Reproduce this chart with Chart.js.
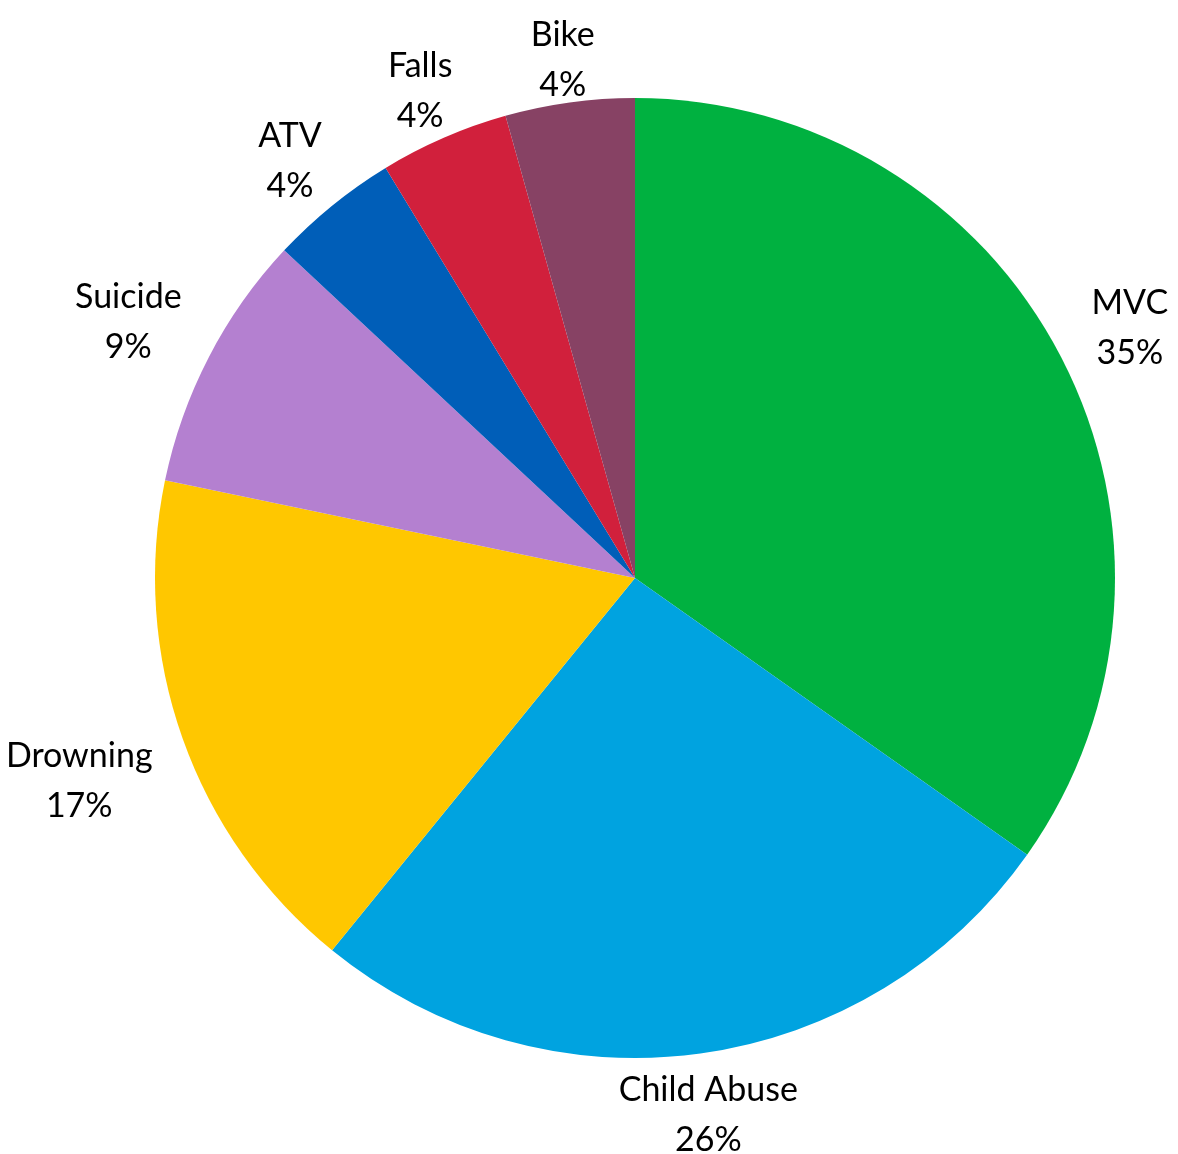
<!DOCTYPE html>
<html>
<head>
<meta charset="utf-8">
<title>Injury causes</title>
<script src="https://cdn.jsdelivr.net/npm/chart.js@4.4.1/dist/chart.umd.min.js"></script>
<style>
  html, body { margin: 0; padding: 0; background: #fff; }
  #wrap { position: relative; width: 1178px; height: 1154px; }
</style>
</head>
<body>
<div id="wrap"><canvas id="pie"></canvas></div>
<script>
// injury counts by cause (slices run clockwise from 12 o'clock)
const causes = ['MVC', 'Child Abuse', 'Drowning', 'Suicide', 'ATV', 'Falls', 'Bike'];
const counts = [8, 6, 4, 2, 1, 1, 1];
const sliceColors = ['#00b140', '#00a3e0', '#ffc700', '#b480d0', '#005eb8', '#d1203c', '#874264'];

const FONT = '34px Lato, "Open Sans", sans-serif';
const LINE_H = 50;
const LABEL_GAP = 6;

// category name + percent, placed outside each slice along its mid angle
const outsideLabels = {
  id: 'outsideLabels',
  afterDraw: function (chart) {
    const ctx = chart.ctx;
    const meta = chart.getDatasetMeta(0);
    const total = counts.reduce(function (a, b) { return a + b; }, 0);
    ctx.save();
    ctx.font = FONT;
    ctx.fillStyle = '#000';
    ctx.textAlign = 'center';
    ctx.textBaseline = 'middle';
    meta.data.forEach(function (arc, i) {
      const p = arc.getProps(['x', 'y', 'startAngle', 'endAngle', 'outerRadius'], true);
      const mid = (p.startAngle + p.endAngle) / 2;
      const dx = Math.cos(mid), dy = Math.sin(mid);
      const lines = [causes[i], Math.round(counts[i] / total * 100) + '%'];
      const w = Math.max(ctx.measureText(lines[0]).width, ctx.measureText(lines[1]).width);
      // half of the text box measured along the label direction,
      // plus a little extra room for the side labels
      const ext = Math.abs(dx) * w / 2 + Math.abs(dy) * 40 + 24 * dx * dx;
      const r = p.outerRadius + LABEL_GAP + ext;
      // Lato sits a bit high on a 'middle' baseline, less so below the pie
      const drop = 6 - 2 * dy;
      const cx = p.x + dx * r, cy = p.y + dy * r + drop;
      ctx.fillText(lines[0], cx, cy - LINE_H / 2);
      ctx.fillText(lines[1], cx, cy + LINE_H / 2);
    });
    ctx.restore();
  }
};

new Chart(document.getElementById('pie'), {
  type: 'pie',
  data: {
    labels: causes,
    datasets: [{
      data: counts,
      backgroundColor: sliceColors,
      borderWidth: 0
    }]
  },
  options: {
    responsive: true,
    maintainAspectRatio: false,
    animation: false,
    layout: { padding: { left: 155, right: 63, top: 98, bottom: 96 } },
    plugins: {
      legend: { display: false },
      tooltip: { enabled: false }
    }
  },
  plugins: [outsideLabels]
});
</script>
</body>
</html>
